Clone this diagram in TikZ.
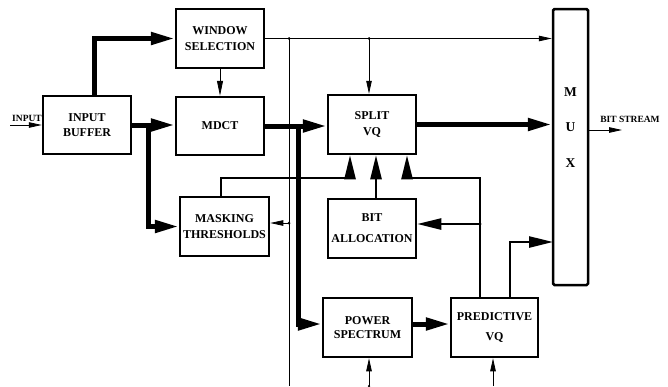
\documentclass[tikz,border=0pt]{standalone}
\usepackage{fontspec}
\setmainfont{Liberation Serif}
\usetikzlibrary{arrows.meta}
\begin{document}
\begin{tikzpicture}[x=1pt,y=-1pt,
  blk/.style={draw, line width=2.5pt, inner sep=0pt, align=center, minimum width=88pt, minimum height=59pt, font=\fontsize{12}{15.5}\selectfont\bfseries},
  small/.style={inner sep=0pt, font=\fontsize{9.5}{11}\selectfont\bfseries},
  thk/.style={line width=5pt},
  med/.style={line width=2.5pt},
  thn/.style={line width=0.8pt},
  bigtip/.style={-{Triangle[length=24pt,width=12pt]}},
  medtip/.style={-{Triangle[length=24pt,width=11pt]}},
  thintip/.style={-{Triangle[length=13pt,width=5.5pt]}},
  jdot/.style={fill, circle, inner sep=0pt, minimum size=3pt}
]
\useasboundingbox (0,0) rectangle (668,386);

% blocks
\node[blk] (ws) at (220,38.5) {WINDOW\\SELECTION};
\node[blk, minimum height=58pt] (ib) at (87,125) {INPUT\\BUFFER};
\node[blk, minimum height=58pt] (md) at (220,126) {MDCT};
\node[blk] (sv) at (372,124.5) {SPLIT\\VQ};
\node[blk, minimum width=89pt] (mt) at (224.5,226.5) {MASKING\\THRESHOLDS};
\node[blk, font=\fontsize{12}{21}\selectfont\bfseries] (ba) at (372,228.5) {BIT\\ALLOCATION};
\node[blk, minimum width=89pt, font=\fontsize{12}{14.5}\selectfont\bfseries] (ps) at (367.5,327.5) {POWER\\SPECTRUM};
\node[blk, minimum width=87pt, font=\fontsize{12}{20}\selectfont\bfseries] (pv) at (494.5,327.5) {PREDICTIVE\\VQ};
\node[draw, line width=2.5pt, rounded corners=1.5pt, minimum width=35pt, minimum height=276pt, inner sep=0pt] (mux) at (570.5,147) {};
\node[align=center, inner sep=0pt, font=\fontsize{13.5}{35.5}\selectfont\bfseries] (muxl) at (570.5,127.5) {M\\U\\X};

% labels
\node[small] (inl) at (27,118) {INPUT};
\node[small] (bsl) at (630,119) {BIT STREAM};

% coordinates
\coordinate (inp) at (10,125);
\coordinate (b1) at (148,125.5);
\coordinate (b2) at (298,126);
\coordinate (d1) at (289,38.5);
\coordinate (d2) at (369,38.5);
\coordinate (d3) at (289,223);
\coordinate (d4) at (480,224);
\coordinate (bot1) at (289,386);
\coordinate (sva) at (350,178);
\coordinate (svc) at (407,178);
\coordinate (mx3) at (553,242);
\coordinate (bs) at (622,130);
\coordinate (in1) at (369,386);
\coordinate (in2) at (493,386);

% thin connectors
\draw[thn, thintip] (inp) -- (ib.west);
\draw[thn, -{Triangle[length=15pt,width=6pt]}] (ws.south) -- (md.north);
\draw[thn, thintip] (ws.east) -- (ws.east -| mux.west);
\draw[thn] (d1) -- (bot1);
\draw[thn, thintip] (d2) -- (d2 |- sv.north);
\draw[thn, thintip] (d3) -- (d3 -| mt.east);
\draw[thn, thintip] (bs -| mux.east) -- (bs);
\draw[thn, thintip] (in1) -- (in1 |- ps.south);
\draw[thn, thintip] (in2) -- (in2 |- pv.south);
\node[jdot] at (d1) {};
\node[jdot] at (d2) {};
\node[jdot] at (d3) {};
\node[jdot, minimum size=2.5pt] at (in1) {};

% thick connectors
\draw[thk, bigtip] ([xshift=7pt]ib.north) |- (ws.west);
\draw[thk, bigtip] (ib.east) -- (ib.east -| md.west);
\draw[thk, bigtip] (b1) |- (mt.west);
\draw[thk, bigtip] (md.east) -- (md.east -| sv.west);
\draw[thk, bigtip] (b2) |- ([yshift=3.5pt]ps.west);
\draw[thk, bigtip] ([yshift=3.5pt]ps.east) -- ([yshift=3.5pt]pv.west);
\draw[thk, bigtip] (sv.east) -- (sv.east -| mux.west);

% medium connectors
\draw[med, medtip] ([xshift=-3.5pt]mt.north) |- (sva) -- (sva |- sv.south);
\draw[med, medtip] ([xshift=4pt]ba.north) -- ([xshift=4pt]sv.south);
\draw[med, medtip] ([xshift=-14.5pt]pv.north) |- (svc) -- (svc |- sv.south);
\draw[med, medtip] (d4) -- (d4 -| ba.east);
\node[jdot] at (d4) {};
\draw[med, medtip] ([xshift=15.5pt]pv.north) |- (mx3);
\end{tikzpicture}
\end{document}
